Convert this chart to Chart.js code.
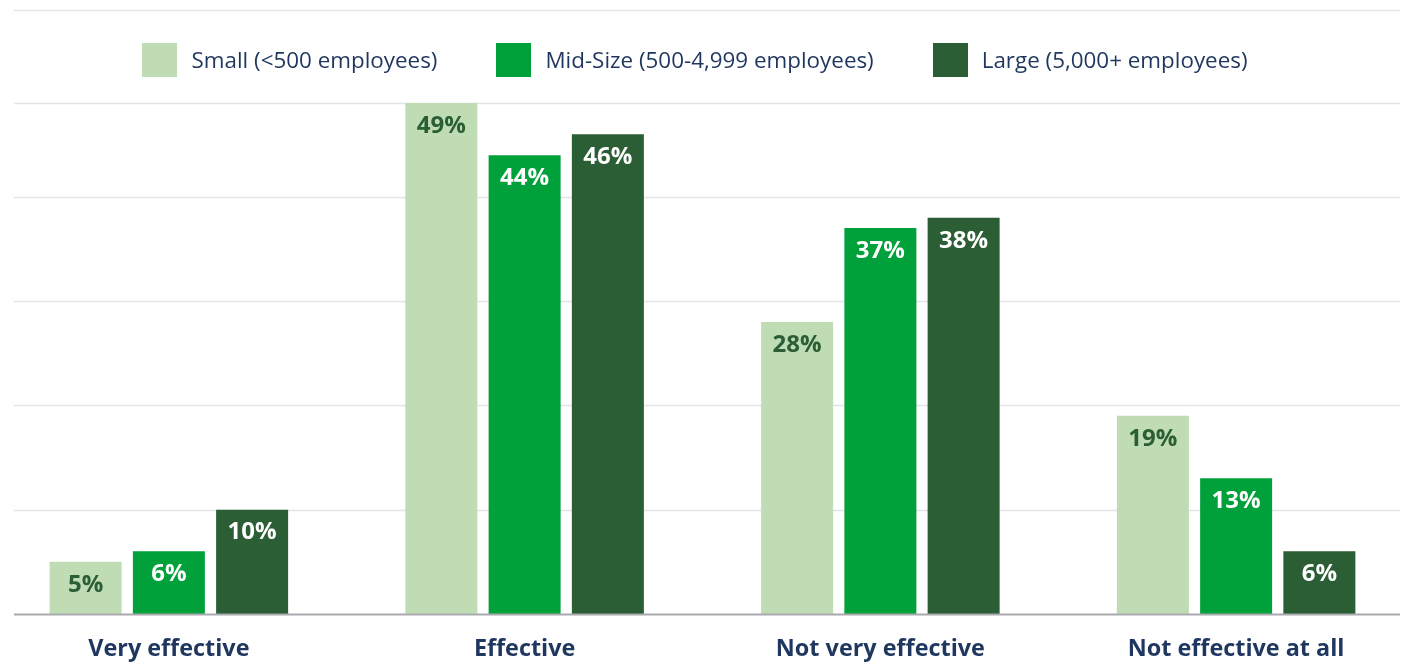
<!DOCTYPE html>
<html>
<head>
<meta charset="utf-8">
<script src="https://cdn.jsdelivr.net/npm/chart.js@4"></script>
<style>
  html, body { margin: 0; padding: 0; background: #ffffff; overflow: hidden; }
  /* plot runs slightly past both page edges, so the canvas is wider than the page */
  #wrap { width: 1423px; height: 663px; position: relative; margin-left: -9px; }
</style>
</head>
<body>
<div id="wrap"><canvas id="chart"></canvas></div>
<script>
// Survey answers by company size (percent of respondents)
const categories = ['Very effective', 'Effective', 'Not very effective', 'Not effective at all'];
const seriesNames = ['Small (<500 employees)', 'Mid-Size (500-4,999 employees)', 'Large (5,000+ employees)'];
const smallValues = [5, 49, 28, 19];
const midValues = [6, 44, 37, 13];
const largeValues = [10, 46, 38, 6];
const yMax = 49;
const yStep = 10;

const seriesColors = ['#bfdcb4', '#00a13b', '#2b5e34'];
const valueLabelColors = ['#2b5e34', '#ffffff', '#ffffff'];
const navy = '#1f365f';
const FONT = '"Open Sans", Lato, sans-serif';
const SHIFT = 9; // canvas starts 9px left of the page edge

// Horizontal rules: light grid, darker baseline, a rule above the legend band
const ruleLines = {
  id: 'ruleLines',
  beforeDatasetsDraw(chart) {
    const { ctx } = chart;
    const y = chart.scales.y;
    const x0 = 14 + SHIFT, x1 = 1400 + SHIFT;
    ctx.save();
    const draw = (py, color, w) => {
      ctx.beginPath();
      ctx.strokeStyle = color;
      ctx.lineWidth = w;
      ctx.moveTo(x0, py);
      ctx.lineTo(x1, py);
      ctx.stroke();
    };
    draw(10.5, '#e3e3ea', 1.5);
    y.ticks.forEach(t => {
      if (t.value !== 0) draw(Math.round(y.getPixelForValue(t.value)) + 0.5, '#e3e3ea', 1.5);
    });
    ctx.restore();
  },
  afterDatasetsDraw(chart) {
    const { ctx } = chart;
    const y = chart.scales.y;
    ctx.save();
    ctx.beginPath();
    ctx.strokeStyle = '#a9a9b0';
    ctx.lineWidth = 2;
    const py = Math.round(y.getPixelForValue(0)) + 0.5;
    ctx.moveTo(14 + SHIFT, py);
    ctx.lineTo(1400 + SHIFT, py);
    ctx.stroke();
    ctx.restore();
  }
};

// Value labels inside the top of each bar
const valueLabels = {
  id: 'valueLabels',
  afterDatasetsDraw(chart) {
    const { ctx } = chart;
    ctx.save();
    ctx.font = '700 24px ' + FONT;
    ctx.textAlign = 'center';
    ctx.textBaseline = 'middle';
    chart.data.datasets.forEach((ds, di) => {
      const meta = chart.getDatasetMeta(di);
      ctx.fillStyle = valueLabelColors[di];
      meta.data.forEach((bar, i) => {
        ctx.fillText(ds.data[i] + '%', bar.x, bar.y + 23);
      });
    });
    ctx.restore();
  }
};

// Centered legend row in the band above the plot
const legendRow = {
  id: 'legendRow',
  afterDraw(chart) {
    const { ctx } = chart;
    const box = 35, boxH = 34, textGap = 14, itemGap = 59, cy = 60, cx = 695 + SHIFT;
    ctx.save();
    ctx.font = '400 22.4px ' + FONT;
    ctx.textBaseline = 'middle';
    ctx.textAlign = 'left';
    const items = chart.data.datasets.map(ds => ({
      label: ds.label, color: ds.backgroundColor, w: box + textGap + ctx.measureText(ds.label).width
    }));
    const total = items.reduce((s, it) => s + it.w, 0) + itemGap * (items.length - 1);
    let x = cx - total / 2;
    items.forEach(it => {
      ctx.fillStyle = it.color;
      ctx.fillRect(Math.round(x), cy - boxH / 2, box, boxH);
      ctx.fillStyle = navy;
      ctx.fillText(it.label, x + box + textGap, cy + 2);
      x += it.w + itemGap;
    });
    ctx.restore();
  }
};

const seriesValues = [smallValues, midValues, largeValues];

new Chart(document.getElementById('chart'), {
  type: 'bar',
  data: {
    labels: categories,
    datasets: seriesNames.map((name, i) => ({
      label: name,
      data: seriesValues[i],
      backgroundColor: seriesColors[i],
      borderWidth: 0,
      categoryPercentage: 0.702,
      barPercentage: 0.865
    }))
  },
  options: {
    responsive: true,
    maintainAspectRatio: false,
    animation: false,
    layout: { padding: { left: 0, right: 0, top: 103, bottom: -21 } },
    plugins: {
      legend: { display: false },
      tooltip: { enabled: false }
    },
    scales: {
      x: {
        grid: { display: false, drawTicks: false },
        border: { display: false },
        ticks: {
          color: navy,
          padding: 21,
          font: { family: FONT, size: 23.4, weight: '700' }
        }
      },
      y: {
        display: false,
        min: 0,
        max: yMax,
        ticks: { stepSize: yStep }
      }
    }
  },
  plugins: [ruleLines, valueLabels, legendRow]
});
</script>
</body>
</html>
